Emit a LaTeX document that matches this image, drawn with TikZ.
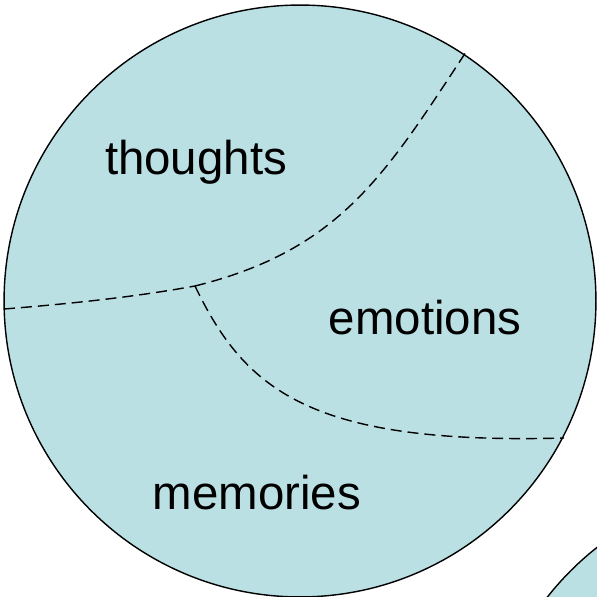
\documentclass[tikz,border=0pt]{standalone}
\usepackage{fontspec}
\setmainfont{Liberation Sans}
\definecolor{mindblue}{RGB}{186,224,228}
\begin{document}
\begin{tikzpicture}[x=0.02cm, y=-0.02cm,
    mind/.style={draw=black, line width=0.8pt, fill=mindblue},
    divider/.style={draw=black, line width=0.8pt, dash pattern=on 0.22cm off 0.12cm},
    region/.style={font=\fontsize{27}{32}\selectfont, anchor=base, inner sep=0pt}]
    \useasboundingbox (0,0) rectangle (597,597);
    \clip (0,0) rectangle (597,597);
    % Circles
    \path[mind] (300,301) circle[radius=5.92cm];
    \path[mind] (780,780) circle[radius=5.92cm];
    % Ends of the dividing lines
    \coordinate (left)  at (4,309);
    \coordinate (join)  at (195,286);
    \coordinate (top)   at (466,52);
    \coordinate (right) at (564,438);
    % Dividing lines
    \draw[divider] (left) .. controls (80,303) and (140,296) .. (join);
    \draw[divider] (join) .. controls (340,250) and (385,175) .. (top);
    \draw[divider] (join) .. controls (245,390) and (310,445) .. (right);
    % Labels
    \node[region] (thoughts) at (196,175) {thoughts};
    \node[region] (emotions) at (425,334) {emotions};
    \node[region] (memories) at (257,509) {memories};
\end{tikzpicture}
\end{document}
